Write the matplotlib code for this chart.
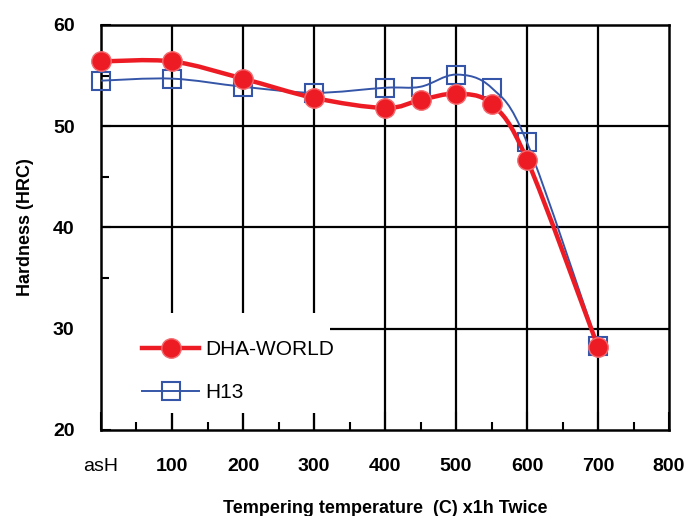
import numpy as np
import matplotlib
matplotlib.use("Agg")
import matplotlib.pyplot as plt
from matplotlib.path import Path
from matplotlib.patches import PathPatch, Rectangle
from matplotlib.lines import Line2D
from matplotlib.ticker import MultipleLocator

plt.rcParams['font.family'] = ['Liberation Sans', 'DejaVu Sans']

# === Data ===
temps = [0, 100, 200, 300, 400, 450, 500, 550, 600, 700]
dha_world = [56.4, 56.4, 54.7, 52.8, 51.8, 52.6, 53.2, 52.2, 46.7, 28.2]
h13 = [54.5, 54.7, 53.9, 53.3, 53.8, 53.9, 55.1, 53.8, 48.4, 28.3]
xtick_vals = [0, 100, 200, 300, 400, 500, 600, 700, 800]
xtick_labels = ["asH", "100", "200", "300", "400", "500", "600", "700", "800"]
ytick_vals = [20, 30, 40, 50, 60]

RED = "#ED1C24"
BLUE = "#3556A8"


# smoothed line like a spreadsheet "smooth line" (bezier through the points)
def smooth_path(x, y):
    p = np.column_stack([x, y]).astype(float)
    verts = [p[0]]
    codes = [Path.MOVETO]
    n = len(p)
    for i in range(n - 1):
        p0 = p[i - 1] if i > 0 else p[i]
        p3 = p[i + 2] if i + 2 < n else p[i + 1]
        c1 = p[i] + (p[i + 1] - p0) / 6
        c2 = p[i + 1] - (p3 - p[i]) / 6
        verts += [c1, c2, p[i + 1]]
        codes += [Path.CURVE4] * 3
    return Path(verts, codes)


fig = plt.figure(figsize=(6.88, 5.16), dpi=100)
ax = fig.add_axes([0.1468, 0.1667, 0.8256, 0.7849])

ax.set_xlim(0, 800)
ax.set_ylim(20, 60)

# gridlines
for x in [100, 200, 300, 400, 500, 600, 700]:
    ax.axvline(x, color="black", lw=1.6, zorder=1)
for y in [30, 40, 50]:
    ax.axhline(y, color="black", lw=1.6, zorder=1)

# H13
ax.add_patch(PathPatch(smooth_path(temps, h13), fc="none", ec=BLUE, lw=1.4, zorder=3))
ax.plot(temps, h13, ls="none", marker="s", ms=13, mfc="none", mec=BLUE, mew=1.5,
        zorder=4, clip_on=False)

# DHA-WORLD
ax.add_patch(PathPatch(smooth_path(temps, dha_world), fc="none", ec=RED, lw=3.2, zorder=5))
ax.plot(temps, dha_world, ls="none", marker="o", ms=14, mfc=RED, mec="#F26B70", mew=1.0,
        zorder=6, clip_on=False)

# axes styling
for s in ax.spines.values():
    s.set_linewidth(1.8)
    s.set_color("black")

ax.set_xticks(xtick_vals)
ax.set_xticklabels(xtick_labels)
ax.xaxis.set_minor_locator(MultipleLocator(50))
ax.set_yticks(ytick_vals)
ax.yaxis.set_minor_locator(MultipleLocator(5))
ax.tick_params(which="major", direction="in", length=13, width=1.5, pad=20, labelsize=14)
ax.tick_params(which="minor", direction="in", length=6, width=1.5)
ax.tick_params(axis="y", which="major", pad=19, length=7)
for lbl in ax.get_xticklabels() + ax.get_yticklabels():
    lbl.set_fontweight("bold")
ax.get_xticklabels()[0].set_fontweight("normal")

ax.set_xlabel("Tempering temperature  (C) x1h Twice", fontsize=13, fontweight="bold", labelpad=18)
ax.set_ylabel("Hardness (HRC)", fontsize=13, fontweight="bold", labelpad=14)

# white block behind the legend (hides gridlines, ticks stay on top)
ax.add_patch(Rectangle((0, 0.042), 0.403, 0.246, transform=ax.transAxes,
                       fc="white", ec="none", zorder=2))

handles = [
    Line2D([], [], color=RED, lw=3.2, marker="o", ms=14, mfc=RED, mec="#F26B70"),
    Line2D([], [], color=BLUE, lw=1.4, marker="s", ms=13, mfc="none", mec=BLUE, mew=1.5),
]
leg = ax.legend(handles, ["DHA-WORLD", "H13"], loc="center left",
                bbox_to_anchor=(0.051, 0.145), fontsize=15, frameon=False,
                handlelength=2.7, labelspacing=1.15, borderpad=0.6, handletextpad=0.3,
                borderaxespad=0)
leg.set_zorder(10)

fig.savefig("out.png", dpi=100)
